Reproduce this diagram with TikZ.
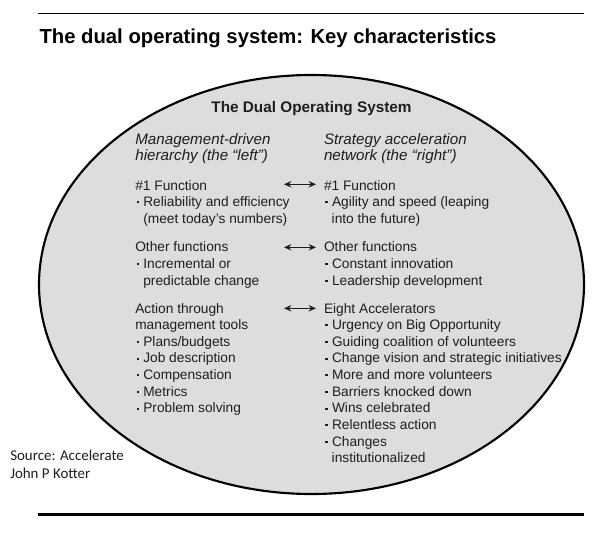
\documentclass[tikz,border=0pt]{standalone}
\usepackage{fontspec}
\setmainfont{Liberation Sans}
\newfontfamily\srcfont{Carlito}
\usetikzlibrary{shapes.geometric,arrows.meta}
\definecolor{ovalfill}{RGB}{220,221,223}
\definecolor{ink}{RGB}{30,30,30}
\newcommand\bsq{\hspace*{1.05pt}\rule[2.3pt]{1.6pt}{1.6pt}\hspace*{3.35pt}}
\begin{document}
\begin{tikzpicture}[x=0.75pt,y=-0.75pt,
  txt/.style={anchor=base west,inner sep=0pt,outer sep=0pt,text=ink,font=\fontsize{10.3}{12}\selectfont},
  ital/.style={txt,font=\fontsize{11.4}{13}\selectfont\itshape},
  src/.style={anchor=base west,inner sep=0pt,text=ink,font=\srcfont\fontsize{11.2}{13}\selectfont},
  dbl/.style={{Stealth[length=5.5pt,width=4.8pt]}-{Stealth[length=5.5pt,width=4.8pt]},line width=1pt,draw=ink}]
\useasboundingbox (0,0) rectangle (614,535);
\fill[white] (0,0) rectangle (614,535);
% rules
\coordinate (tl1) at (38.3,13.3); \coordinate (tl2) at (584.3,13.3);
\draw[line width=1.15pt] (tl1) -- (tl2);
\coordinate (bl1) at (38.3,514.3); \coordinate (bl2) at (584.3,514.3);
\draw[line width=2.2pt] (bl1) -- (bl2);
% title
\node[anchor=base west,inner sep=0pt,font=\fontsize{15.2}{18}\selectfont\bfseries] (title) at (39.3,43.7) {The dual operating system: Key characteristics};
% oval
\node[ellipse,draw=black,line width=1.6pt,fill=ovalfill,minimum width=408.75pt,minimum height=314.25pt,inner sep=0pt] (oval) at (311.5,284.5) {};
\node[anchor=base,inner sep=0pt,text=ink,font=\fontsize{11.5}{14}\selectfont\bfseries] (head) at (311.5,112.3) {The Dual Operating System};
% left column
\node[ital] (L1) at (135.3,144.3) {Management-driven};
\node[ital] (L2) at (135.3,160.7) {hierarchy (the “left”)};
\node[txt] (L3) at (135.3,190) {\#1 Function};
\node[txt] (L4) at (135.3,206.5) {\bsq Reliability and efficiency};
\node[txt] (L5) at (143.3,223) {(meet today’s numbers)};
\node[txt] (L6) at (135.3,251.7) {Other functions};
\node[txt] (L7) at (135.3,268.3) {\bsq Incremental or};
\node[txt] (L8) at (143.3,285) {predictable change};
\node[txt] (L9) at (135.3,313) {Action through};
\node[txt] (L10) at (135.3,329.5) {management tools};
\node[txt] (L11) at (135.3,346.2) {\bsq Plans/budgets};
\node[txt] (L12) at (135.3,362.8) {\bsq Job description};
\node[txt] (L13) at (135.3,379.4) {\bsq Compensation};
\node[txt] (L14) at (135.3,396) {\bsq Metrics};
\node[txt] (L15) at (135.3,412.7) {\bsq Problem solving};
% right column
\node[ital] (R1) at (324,144.3) {Strategy acceleration};
\node[ital] (R2) at (324,160.7) {network (the “right”)};
\node[txt] (R3) at (324,190) {\#1 Function};
\node[txt] (R4) at (324,206.5) {\bsq Agility and speed (leaping};
\node[txt] (R5) at (331.7,223) {into the future)};
\node[txt] (R6) at (324,251.7) {Other functions};
\node[txt] (R7) at (324,268.3) {\bsq Constant innovation};
\node[txt] (R8) at (324,285) {\bsq Leadership development};
\node[txt] (R9) at (324,313) {Eight Accelerators};
\node[txt] (R10) at (324,329.5) {\bsq Urgency on Big Opportunity};
\node[txt] (R11) at (324,346.2) {\bsq Guiding coalition of volunteers};
\node[txt] (R12) at (324,362.8) {\bsq Change vision and strategic initiatives};
\node[txt] (R13) at (324,379.4) {\bsq More and more volunteers};
\node[txt] (R14) at (324,396) {\bsq Barriers knocked down};
\node[txt] (R15) at (324,412.7) {\bsq Wins celebrated};
\node[txt] (R16) at (324,429.3) {\bsq Relentless action};
\node[txt] (R17) at (324,446) {\bsq Changes};
\node[txt] (R18) at (331.7,462.7) {institutionalized};
% arrows
\coordinate (a1s) at (284,184.3); \coordinate (a1e) at (316,184.3);
\coordinate (a2s) at (284,247.3); \coordinate (a2e) at (316,247.3);
\coordinate (a3s) at (284,308.3); \coordinate (a3e) at (316,308.3);
\draw[dbl] (a1s) -- (a1e);
\draw[dbl] (a2s) -- (a2e);
\draw[dbl] (a3s) -- (a3e);
% source
\node[src] (s1) at (10,460.7) {Source: Accelerate};
\node[src] (s2) at (10,478.3) {John P Kotter};
\end{tikzpicture}
\end{document}
